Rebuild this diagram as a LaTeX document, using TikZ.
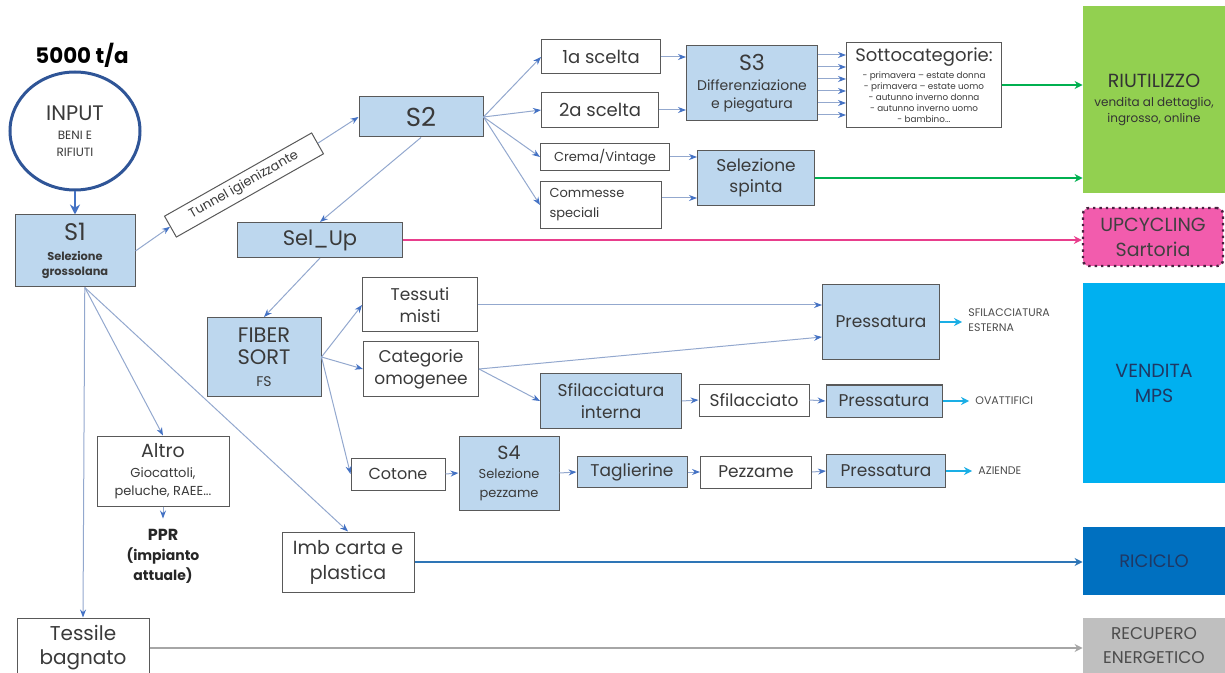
\documentclass[tikz,border=0pt]{standalone}
\usepackage{fontspec}
\setmainfont{Poppins}
\usetikzlibrary{arrows.meta,shapes.geometric}

\definecolor{boxblue}{HTML}{BDD7EE}
\definecolor{boxline}{HTML}{595959}
\definecolor{txt}{HTML}{3A3A3A}
\definecolor{flowline}{HTML}{93A8CE}
\definecolor{tipblue}{HTML}{4472C4}
\definecolor{inblue}{HTML}{2F5597}
\definecolor{reusegreen}{HTML}{92D050}
\definecolor{arrgreen}{HTML}{00B050}
\definecolor{upcpink}{HTML}{F25CAD}
\definecolor{upcline}{HTML}{4A2040}
\definecolor{arrpink}{HTML}{E83E8C}
\definecolor{mpscyan}{HTML}{00B0F0}
\definecolor{arrcyan}{HTML}{1AAEE5}
\definecolor{recblue}{HTML}{0070C0}
\definecolor{arrblue}{HTML}{2E75B6}
\definecolor{navy}{HTML}{1F3864}
\definecolor{engray}{HTML}{BFBFBF}
\definecolor{arrgray}{HTML}{A6A6A6}

\newcommand{\fsz}[2]{\fontsize{#1}{#2}\selectfont}

\begin{document}
\begin{tikzpicture}[
  x=0.5pt, y=-0.5pt,
  sz/.style 2 args={minimum width=#1*0.5pt, minimum height=#2*0.5pt},
  box/.style={draw=boxline, line width=0.5pt, fill=white, text=txt, align=center, inner sep=0pt},
  bluebox/.style={box, fill=boxblue},
  dest/.style={text=navy, align=center, inner sep=0pt},
  note/.style={font=\fsz{5.5}{7.5}, text=black!70, align=left, anchor=west, inner sep=0pt},
  flow/.style={draw=flowline, line width=0.5pt, -{Stealth[color=tipblue, length=4pt, width=3pt]}},
  bigflow/.style={line width=1.2pt, -{Stealth[length=4pt, width=4pt]}},
  cyanflow/.style={draw=arrcyan, line width=1.2pt, shorten >=3pt, -{Stealth[length=4pt, width=4pt]}}
]
  \useasboundingbox (0,0) rectangle (1225,673);

  \node[font=\fsz{10.7}{13}\bfseries, text=black] (tpa) at (82,55) {5000 t/a};
  \node[ellipse, draw=inblue, line width=1.5pt, sz={130}{118}, inner sep=0pt, align=center, text=txt,
    font=\fsz{6}{8.5}] (in) at (75,131) {\fsz{10.5}{13}INPUT\\[1pt]BENI E\\RIFIUTI};
  \node[bluebox, sz={120}{72}, font=\fsz{5.7}{7.5}\bfseries] (sone) at (75,251)
    {\fsz{12}{13}\mdseries S1\\[2.5pt]Selezione\\grossolana};
  \node[box, sz={169}{24}, rotate=29.5, font=\fsz{6.5}{8}] (tunnel) at (244,185) {Tunnel igienizzante};

  \node[bluebox, sz={124}{40}, font=\fsz{13}{15}] (stwo) at (421,117) {S2};
  \node[box, sz={119}{34}, font=\fsz{9}{11}] (first) at (601,57) {1a scelta};
  \node[box, sz={117}{35}, font=\fsz{9}{11}] (second) at (600,110) {2a scelta};
  \node[box, sz={129}{27}, font=\fsz{6.5}{9}] (crema) at (605,157) {Crema/Vintage};
  \node[box, sz={121}{47}, font=\fsz{6.5}{10}, text width=51.5pt, align=left] (commesse) at (601,205) {Commesse\\speciali};
  \node[bluebox, sz={131}{75}, font=\fsz{7}{9}] (sthree) at (752,83) {\fsz{11}{13}S3\\[1pt]Differenziazione\\e piegatura};
  \node[box, sz={155}{85}, font=\fsz{4.4}{5.5}] (sotto) at (924,85)
    {\fsz{9}{11}Sottocategorie:\\[1.5pt]- primavera \textendash{} estate donna\\- primavera \textendash{} estate uomo\\- autunno inverno donna\\- autunno inverno uomo\\- bambino...};
  \node[bluebox, sz={117}{55}, font=\fsz{8.5}{10.5}] (spinta) at (756,178) {Selezione\\spinta};

  \node[fill=reusegreen, sz={142}{187}, align=center, inner sep=0pt, text=black!80, font=\fsz{6}{8}] (riuso) at (1154,100)
    {\fsz{9.5}{11}RIUTILIZZO\\[1.5pt]vendita al dettaglio,\\ingrosso, online};
  \node[fill=upcpink, draw=upcline, dotted, line width=1.2pt, rounded corners=3pt, sz={140}{58}, align=center,
    inner sep=0pt, text=black!75, font=\fsz{9.5}{12.5}] (upc) at (1153,237) {UPCYCLING\\Sartoria};
  \node[fill=mpscyan, dest, sz={142}{200}, font=\fsz{9.5}{12.5}] (mps) at (1154,383) {VENDITA\\MPS};
  \node[fill=recblue, dest, sz={142}{68}, font=\fsz{9}{11}] (ricic) at (1154,561) {RICICLO};
  \node[fill=engray, dest, text=black!70, sz={142}{55}, font=\fsz{8.5}{12}] (recup) at (1154,645.5) {RECUPERO\\ENERGETICO};

  \node[bluebox, sz={165}{35}, font=\fsz{10.5}{12}] (selup) at (320,240) {Sel\_Up};
  \node[bluebox, sz={114}{79}, font=\fsz{10.5}{11}] (fiber) at (264,357) {FIBER\\SORT\\\fsz{7}{10}FS};
  \node[box, sz={115}{54}, font=\fsz{8.5}{11}] (tessuti) at (420,305) {Tessuti\\misti};
  \node[box, sz={115}{54}, font=\fsz{8.5}{11}] (categ) at (421,369) {Categorie\\omogenee};
  \node[bluebox, sz={117}{75}, font=\fsz{8.5}{10}] (pressa) at (881,322) {Pressatura};
  \node[note] (sfest) at (968,320) {SFILACCIATURA\\ESTERNA};
  \node[bluebox, sz={141}{54}, font=\fsz{8.5}{11}] (sfilint) at (611,401) {Sfilacciatura\\interna};
  \node[box, sz={110}{32}, font=\fsz{8.5}{10}] (sfilato) at (754,400) {Sfilacciato};
  \node[bluebox, sz={116}{32}, font=\fsz{8.5}{10}] (pressb) at (884,401) {Pressatura};
  \node[note] (ovatt) at (975,401) {OVATTIFICI};
  \node[box, sz={94}{32}, font=\fsz{8}{10}] (cotone) at (398,474) {Cotone};
  \node[bluebox, sz={100}{74}, font=\fsz{6.5}{9.5}] (sfour) at (509,473) {\fsz{9.5}{11}S4\\Selezione\\pezzame};
  \node[bluebox, sz={110}{31}, font=\fsz{8.5}{10}] (taglie) at (632,472) {Taglierine};
  \node[box, sz={111}{32}, font=\fsz{8.5}{10}] (pezzame) at (756,472) {Pezzame};
  \node[bluebox, sz={119}{33}, font=\fsz{8.5}{10}] (pressc) at (886,471) {Pressatura};
  \node[note] (aziende) at (978,471) {AZIENDE};

  \node[box, sz={132}{70}, font=\fsz{6.5}{9}] (altro) at (163,471) {\fsz{9.5}{11}Altro\\[1pt]Giocattoli,\\peluche, RAEE...};
  \node[align=center, inner sep=0pt, text=black!85, font=\fsz{7}{10}\bfseries] (ppr) at (163,556) {\fsz{8}{10}PPR\\(impianto\\attuale)};
  \node[box, sz={132}{60}, font=\fsz{9.5}{12.5}] (imb) at (348,562) {Imb carta e\\plastica};
  \node[box, sz={132}{60}, font=\fsz{10}{12}] (tessile) at (83,648) {Tessile\\bagnato};

  \draw[draw=tipblue, line width=1.4pt, -{Stealth[length=5pt, width=5pt]}] (in.south) -- (sone.north);
  \draw[flow] (sone.east) -- (tunnel.west);
  \draw[flow] (tunnel.east) -- (stwo.west);
  \foreach \n in {first,second,crema,commesse}
    \draw[flow] (stwo.east) -- (\n.west);
  \draw[flow] (stwo.south) -- (selup.north);
  \draw[flow] (first.east) -- (first.east -| sthree.west);
  \draw[flow] (second.east) -- (second.east -| sthree.west);
  \foreach \y in {55,67,79,91,103,115}
    \draw[flow] (sthree.east |- 0,\y) -- (sotto.west |- 0,\y);
  \draw[flow] (crema.east) -- (crema.east -| spinta.west);
  \draw[flow] ([yshift=3.5pt]commesse.east) -- ([yshift=3.5pt]commesse.east -| spinta.west);
  \draw[bigflow, arrgreen] (sotto.east) -- (sotto.east -| riuso.west);
  \draw[bigflow, arrgreen] (spinta.east) -- (spinta.east -| riuso.west);
  \draw[bigflow, arrpink] (selup.east) -- (selup.east -| upc.west);

  \draw[flow] (selup.south) -- (fiber.north);
  \foreach \n in {tessuti,categ,cotone}
    \draw[flow] (fiber.east) -- (\n.west);
  \draw[flow] (tessuti.east) -- (tessuti.east -| pressa.west);
  \draw[flow] (categ.east) -- ([yshift=-7.5pt]pressa.west);
  \draw[flow] (categ.east) -- (sfilint.west);
  \draw[flow] (sfilint.east) -- (sfilato.west);
  \draw[flow] (sfilato.east) -- (pressb.west);
  \draw[flow] (cotone.east) -- (sfour.west);
  \draw[flow] (sfour.east) -- (taglie.west);
  \draw[flow] (taglie.east) -- (pezzame.west);
  \draw[flow] (pezzame.east) -- (pressc.west);
  \draw[cyanflow] (pressa.east) -- (pressa.east -| sfest.west);
  \draw[cyanflow] (pressb.east) -- (pressb.east -| ovatt.west);
  \draw[cyanflow] (pressc.east) -- (pressc.east -| aziende.west);

  \foreach \n in {tessile,altro,imb}
    \draw[flow] (sone.285) -- (\n.north);
  \draw[flow, shorten >=5pt] (altro.south) -- (ppr.north);
  \draw[bigflow, arrblue] (imb.east) -- (imb.east -| ricic.west);
  \draw[bigflow, arrgray] (tessile.east) -- (tessile.east -| recup.west);
\end{tikzpicture}
\end{document}
